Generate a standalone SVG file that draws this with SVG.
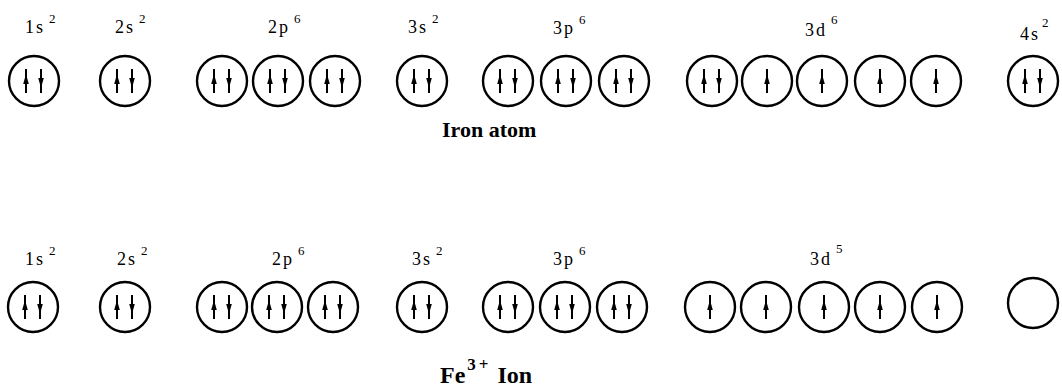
<svg xmlns="http://www.w3.org/2000/svg" width="1062" height="389" viewBox="0 0 1062 389">
<style>
  .orb { fill: #fff; stroke: #000; stroke-width: 2.4; }
  .e { stroke: #000; stroke-width: 2; fill: none; }
  .lbl { font-family: "Liberation Serif", serif; font-size: 18px; fill: #000; letter-spacing: 2px; }
  .sup { font-size: 13px; }
  .cap { font-family: "Liberation Serif", serif; font-weight: bold; fill: #000; }
</style>
<defs>
  <g id="up">
    <line class="e" x1="0" y1="-12" x2="0" y2="12"/>
    <path d="M0,-7 L-2.8,3 L2.8,3 Z" fill="#000"/>
  </g>
  <g id="down">
    <line class="e" x1="0" y1="-12" x2="0" y2="12"/>
    <path d="M0,7 L-2.8,-3 L2.8,-3 Z" fill="#000"/>
  </g>
  <g id="pair">
    <circle class="orb" cx="0" cy="0" r="25"/>
    <use href="#up" x="-8"/>
    <use href="#down" x="7"/>
  </g>
  <g id="single">
    <circle class="orb" cx="0" cy="0" r="25"/>
    <use href="#up" x="0"/>
  </g>
</defs>

<g id="iron-atom">
  <g id="atom-labels">
    <text class="lbl" x="25" y="33">1s<tspan class="sup" dx="4" dy="-10">2</tspan></text>
    <text class="lbl" x="115" y="33">2s<tspan class="sup" dx="4" dy="-10">2</tspan></text>
    <text class="lbl" x="268" y="33">2p<tspan class="sup" dx="4" dy="-10">6</tspan></text>
    <text class="lbl" x="408" y="33">3s<tspan class="sup" dx="4" dy="-10">2</tspan></text>
    <text class="lbl" x="553" y="34">3p<tspan class="sup" dx="4" dy="-10">6</tspan></text>
    <text class="lbl" x="805" y="36">3d<tspan class="sup" dx="4" dy="-12">6</tspan></text>
    <text class="lbl" x="1020" y="40">4s<tspan class="sup" dx="2" dy="-13">2</tspan></text>
  </g>
  <g id="atom-1s"><use href="#pair" x="34" y="81"/></g>
  <g id="atom-2s"><use href="#pair" x="125" y="81"/></g>
  <g id="atom-2p">
    <use href="#pair" x="222" y="81"/>
    <use href="#pair" x="278" y="81"/>
    <use href="#pair" x="335" y="81"/>
  </g>
  <g id="atom-3s"><use href="#pair" x="422" y="81"/></g>
  <g id="atom-3p">
    <use href="#pair" x="508" y="81"/>
    <use href="#pair" x="566" y="81"/>
    <use href="#pair" x="624" y="81"/>
  </g>
  <g id="atom-3d">
    <use href="#pair" x="712" y="81"/>
    <use href="#single" x="767" y="81"/>
    <use href="#single" x="822" y="81"/>
    <use href="#single" x="880" y="81"/>
    <use href="#single" x="936" y="81"/>
  </g>
  <g id="atom-4s"><use href="#pair" x="1033" y="81"/></g>
  <text id="atom-caption" class="cap" font-size="22" x="442" y="137">Iron atom</text>
</g>

<g id="fe3-ion">
  <g id="ion-labels">
    <text class="lbl" x="25" y="265">1s<tspan class="sup" dx="4" dy="-10">2</tspan></text>
    <text class="lbl" x="117" y="265">2s<tspan class="sup" dx="4" dy="-10">2</tspan></text>
    <text class="lbl" x="272" y="265">2p<tspan class="sup" dx="4" dy="-10">6</tspan></text>
    <text class="lbl" x="412" y="265">3s<tspan class="sup" dx="4" dy="-10">2</tspan></text>
    <text class="lbl" x="553" y="265">3p<tspan class="sup" dx="4" dy="-10">6</tspan></text>
    <text class="lbl" x="810" y="265">3d<tspan class="sup" dx="4" dy="-12">5</tspan></text>
  </g>
  <g id="ion-1s"><use href="#pair" x="33" y="307"/></g>
  <g id="ion-2s"><use href="#pair" x="125" y="307"/></g>
  <g id="ion-2p">
    <use href="#pair" x="222" y="307"/>
    <use href="#pair" x="277" y="307"/>
    <use href="#pair" x="333" y="307"/>
  </g>
  <g id="ion-3s"><use href="#pair" x="422" y="307"/></g>
  <g id="ion-3p">
    <use href="#pair" x="508" y="307"/>
    <use href="#pair" x="565" y="307"/>
    <use href="#pair" x="622" y="307"/>
  </g>
  <g id="ion-3d">
    <use href="#single" x="710" y="307"/>
    <use href="#single" x="766" y="307"/>
    <use href="#single" x="824" y="307"/>
    <use href="#single" x="880" y="307"/>
    <use href="#single" x="937" y="307"/>
  </g>
  <g id="ion-4s"><circle class="orb" cx="1033" cy="303" r="25"/></g>
  <text id="ion-caption" class="cap" font-size="24" x="440" y="383">Fe<tspan font-size="17" letter-spacing="3" dx="2" dy="-13">3+</tspan><tspan dx="6" dy="13">Ion</tspan></text>
</g>
</svg>
